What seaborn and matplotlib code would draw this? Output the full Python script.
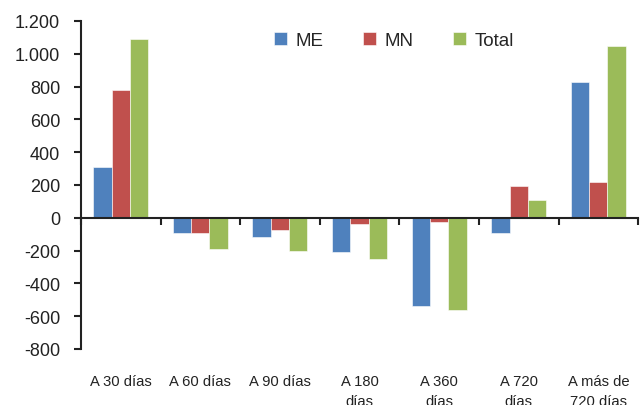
import numpy as np
import pandas as pd
import matplotlib
matplotlib.use('Agg')
import matplotlib.pyplot as plt
import matplotlib.transforms as mtransforms
import seaborn as sns

categories = ['A 30 días', 'A 60 días', 'A 90 días', 'A 180\ndías',
              'A 360\ndías', 'A 720\ndías', 'A más de\n720 días']
me = [310, -93, -115, -209, -536, -93, 826]
mn = [780, -93, -76, -36, -28, 192, 220]
total = [1088, -190, -200, -249, -562, 107, 1048]
series = ['ME', 'MN', 'Total']
colors = ['#4F81BD', '#C0504D', '#9BBB59']
yticks = list(range(-800, 1201, 200))

frame = pd.DataFrame({
    'cat': categories * 3,
    'serie': [s for s in series for _ in categories],
    'val': me + mn + total,
})

sns.set_style('white')
plt.rcParams['font.family'] = ['Liberation Sans', 'DejaVu Sans']

fig = plt.figure(figsize=(6.42, 4.06), dpi=100)
ax = fig.add_axes([0.126, 0.138, 0.868, 0.808])

sns.barplot(data=frame, x='cat', y='val', hue='serie', order=categories,
            hue_order=series, palette=colors, saturation=1, width=0.69,
            edgecolor='white', linewidth=0.4, ax=ax)

ax.set_xlim(-0.5, len(categories) - 0.5)
ax.set_ylim(-800, 1200)
ax.set_yticks(yticks)
ax.set_yticklabels([f'{v:,}'.replace(',', '.') for v in yticks], fontsize=13, color='#222222')
ax.set_xticks(np.arange(-0.5, len(categories), 1))
ax.set_xticklabels([])
ax.set_xlabel('')
ax.set_ylabel('')

for s in ['top', 'right']:
    ax.spines[s].set_visible(False)
ax.spines['bottom'].set_position(('data', 0))
for s in ['left', 'bottom']:
    ax.spines[s].set_linewidth(1.5)
    ax.spines[s].set_color('#222222')
ax.tick_params(axis='y', direction='out', length=5, width=1.5, pad=10, color='#222222', left=True)
ax.tick_params(axis='x', direction='out', length=5, width=1.5, color='#222222', bottom=True)

trans = mtransforms.blended_transform_factory(ax.transData, ax.transAxes)
for i, lab in enumerate(categories):
    ax.text(i, -0.077, lab, transform=trans, ha='center', va='top',
            fontsize=10.6, color='#222222', linespacing=1.5)

ax.legend(loc='center', bbox_to_anchor=(0.562, 0.94), ncol=3, frameon=False,
          fontsize=13.5, handlelength=0.7, handleheight=0.7, handletextpad=0.45,
          columnspacing=2.1, title=None)

fig.savefig('out.png', dpi=100)
